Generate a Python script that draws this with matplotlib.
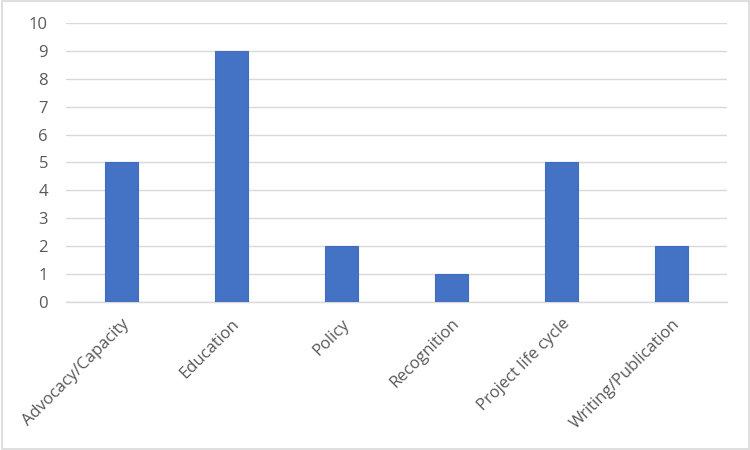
import numpy as np
import matplotlib.pyplot as plt
from matplotlib.patches import Rectangle

categories = ["Advocacy/Capacity", "Education", "Policy", "Recognition",
              "Project life cycle", "Writing/Publication"]
counts = [5, 9, 2, 1, 5, 2]
yticks = list(range(0, 11))

plt.rcParams['font.family'] = ['Open Sans', 'DejaVu Sans']

fig = plt.figure(figsize=(7.5, 4.5), dpi=100)
ax = fig.add_axes([0.088, 0.329, 0.881, 0.62])

x = np.arange(len(categories))
ax.bar(x, counts, width=0.3, color='#4472C4', edgecolor='#3F6EC0', linewidth=0.8, zorder=3)

ax.set_xlim(-0.5, len(categories) - 0.5)
ax.set_ylim(0, 10)
ax.set_yticks(yticks)
ax.yaxis.grid(True, color='#D9D9D9', linewidth=1.0, zorder=0)
ax.set_axisbelow(True)
for s in ['top', 'right', 'left']:
    ax.spines[s].set_visible(False)
ax.spines['bottom'].set_color('#D9D9D9')
ax.spines['bottom'].set_linewidth(1.0)
ax.tick_params(axis='both', length=0, labelsize=12, labelcolor='#595959')
ax.tick_params(axis='y', pad=13)
ax.set_xticks(x)
ax.set_xticklabels(categories, rotation=45, ha='right', rotation_mode='anchor')
ax.tick_params(axis='x', pad=10)

fig.patches.append(Rectangle((0.002, 0.003), 0.996, 0.994, transform=fig.transFigure,
                             fill=False, edgecolor='#D9D9D9', linewidth=1.2))

fig.savefig('out.png', dpi=100)
